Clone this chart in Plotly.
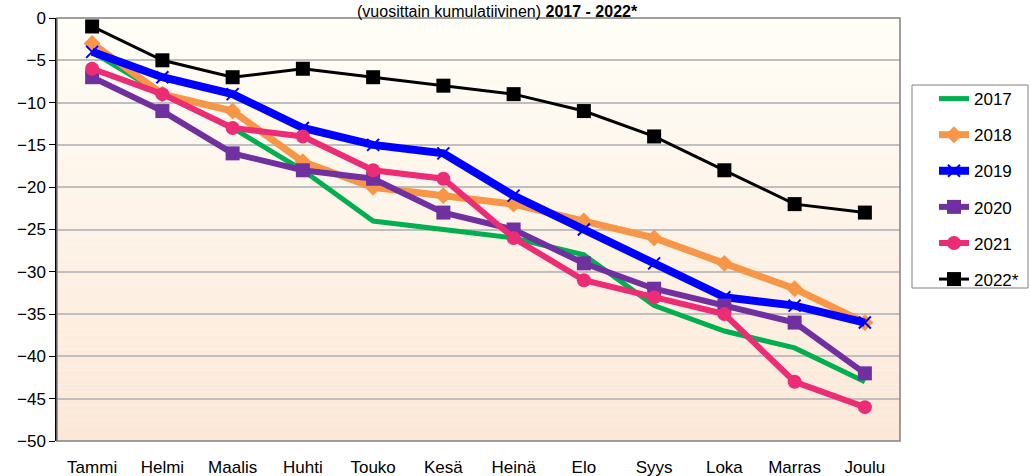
import plotly.graph_objects as go

months = ["Tammi", "Helmi", "Maalis", "Huhti", "Touko", "Kesä", "Heinä", "Elo", "Syys", "Loka", "Marras", "Joulu"]
y2017 = [-4, -9, -13, -18, -24, -25, -26, -28, -34, -37, -39, -43]
y2018 = [-3, -9, -11, -17, -20, -21, -22, -24, -26, -29, -32, -36]
y2019 = [-4, -7, -9, -13, -15, -16, -21, -25, -29, -33, -34, -36]
y2020 = [-7, -11, -16, -18, -19, -23, -25, -29, -32, -34, -36, -42]
y2021 = [-6, -9, -13, -14, -18, -19, -26, -31, -33, -35, -43, -46]
y2022 = [-1, -5, -7, -6, -7, -8, -9, -11, -14, -18, -22, -23]
yticks = list(range(0, -55, -5))

series = [
    ("2017", y2017, "#00B050", 5, "none", 8),
    ("2018", y2018, "#F79646", 7, "diamond", 13),
    ("2019", y2019, "#0000FF", 8, "x-thin", 12),
    ("2020", y2020, "#7030A0", 6, "square", 14),
    ("2021", y2021, "#EC2C74", 6, "circle", 14),
    ("2022*", y2022, "#000000", 3, "square", 14),
]

fig = go.Figure()
for name, vals, col, lw, sym, ms in series:
    mode = "lines" if sym == "none" else "lines+markers"
    fig.add_trace(go.Scatter(
        x=months, y=vals, name=name, mode=mode, legendgroup=name,
        line=dict(color=col, width=lw),
        marker=dict(symbol=sym if sym != "none" else "circle", size=ms, color=col,
                    line=dict(color=col, width=2 if sym == "x-thin" else 0)),
    ))

# gradient background
shapes = []
n = 60
top = (255, 254, 247)
bot = (252, 232, 216)
for i in range(n):
    t = i / (n - 1)
    c = tuple(round(top[k] + (bot[k] - top[k]) * t) for k in range(3))
    shapes.append(dict(type="rect", xref="x domain", yref="y domain",
                       x0=0, x1=1, y0=1 - (i + 1) / n, y1=1 - i / n,
                       fillcolor="rgb(%d,%d,%d)" % c, line=dict(width=0), layer="below"))
shapes.append(dict(type="rect", xref="x domain", yref="y domain", x0=0, x1=1, y0=0, y1=1,
                   line=dict(color="#808080", width=1.5), layer="above"))
# legend frame
shapes.append(dict(type="rect", xref="paper", yref="paper",
                   x0=(912 - 57) / 843, x1=(1028 - 57) / 843,
                   y0=(441 - 288) / 423, y1=(441 - 85) / 423,
                   fillcolor="white", line=dict(color="#808080", width=1), layer="below"))

fig.update_layout(
    width=1030, height=476,
    margin=dict(l=57, r=130, t=18, b=35, autoexpand=False),
    paper_bgcolor="white", plot_bgcolor="rgba(0,0,0,0)",
    font=dict(family="Liberation Sans, Arial", size=17, color="#000000"),
    shapes=shapes,
    showlegend=True,
    legend=dict(x=(934 - 57) / 843, y=0.851, xanchor="left", yanchor="top",
                bgcolor="rgba(0,0,0,0)", borderwidth=0,
                font=dict(size=17), tracegroupgap=11, traceorder="grouped"),
    annotations=[dict(text="(vuosittain kumulatiivinen) <b>2017 - 2022*</b>",
                      xref="paper", yref="paper", x=0.522, y=1, yanchor="top",
                      yshift=17, showarrow=False, font=dict(size=16, color="#000000"))],
)
fig.update_xaxes(range=[-0.5, 11.5], showgrid=False, showline=False, ticks="outside",
                 ticklen=11, tickcolor="rgba(0,0,0,0)", tickfont=dict(size=17),
                 automargin=False)
fig.update_yaxes(range=[-50, 0], tickvals=yticks, showgrid=True, gridcolor="#BFBFBF",
                 gridwidth=1.5, zeroline=False, showline=True, linecolor="#000000",
                 linewidth=1.5, ticks="outside", ticklen=6, tickcolor="#000000",
                 tickfont=dict(size=17), automargin=False)

fig.write_html("out.html", config={"displayModeBar": False},
               post_script="document.body.style.margin='0';document.body.style.overflow='hidden';")
